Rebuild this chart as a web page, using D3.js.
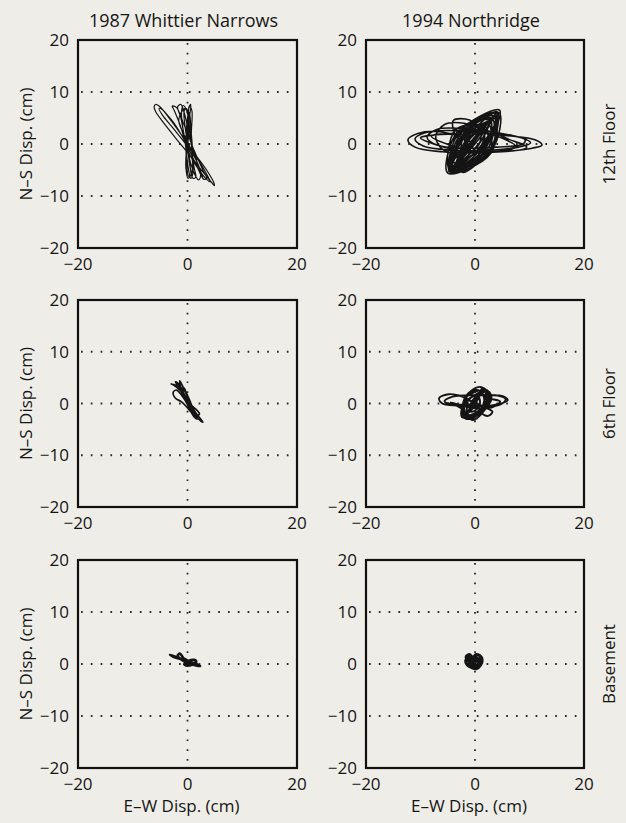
<!DOCTYPE html>
<html>
<head>
<meta charset="utf-8">
<script src="https://cdn.jsdelivr.net/npm/d3@7"></script>
<style>
  body { margin: 0; background: #efede7; }
  text { font-family: "Open Sans", "Noto Sans", sans-serif; fill: #151515; }
</style>
</head>
<body>
<svg id="chart"></svg>
<script>
// column titles and row labels
const events = ["1987 Whittier Narrows", "1994 Northridge"];
const floors = ["12th Floor", "6th Floor", "Basement"];
const xTicks = [-20, 0, 20];
const yTicks = [-20, -10, 0, 10, 20];
const yGrid = [-10, 0, 10];
const xGrid = [0];

// orbits [E-W, N-S] in cm
const whittier12 = [[0,0],[0.3,2.5],[0.2,5.5],[-0.2,6.8],[-0.6,6.4],[-0.4,3],[0.2,-1],[0.5,-4.5],[0.6,-6],[0.2,-6.2],[-0.2,-3],[-0.3,1],[0,5],[0.4,7.2],[0.8,6.4],[0.7,2],[0.8,-2],[1.0,-5.5],[0.6,-6.6],[0.2,-5],[-0.4,0],[-1.2,5],[-1.8,7.2],[-1.2,7.6],[-0.6,6],[0.5,1],[1.6,-3],[2.4,-6],[2.0,-6.9],[1.2,-5.6],[0,-1.5],[-1.2,3.2],[-2.4,6.4],[-2.8,7.3],[-2.0,7],[-0.6,3.6],[1.2,-1.2],[2.8,-5.0],[3.5,-6.6],[3.0,-6.8],[1.6,-4],[-0.4,0.4],[-2.6,4.2],[-4.2,6.2],[-5.2,7.3],[-5.8,7.6],[-6.1,7.2],[-5.8,6.2],[-4.6,4.4],[-2.2,1.2],[0.6,-2.4],[3.0,-5.6],[4.4,-7.4],[4.9,-8],[4.8,-7.4],[3.6,-5.2],[1.4,-2],[-1.0,1.6],[-3.2,4.8],[-4.8,6.8],[-5.2,6.8],[-4.6,5.6],[-2.6,3],[0,-0.4],[2.4,-3.8],[3.8,-6.4],[4.2,-7.3],[3.6,-6.9],[1.6,-4.2],[0,-1],[-0.8,2.8],[-1.1,6],[-0.8,7.4],[-0.2,6.6],[0.4,3],[0.8,-1],[1.2,-4.5],[1.5,-6.4],[1.0,-6.6],[0.4,-4],[0,0],[0.2,4],[0.6,7.6],[0.3,7.2],[0,3],[-0.2,-1],[-0.3,-4.5],[0.1,-6.6],[0.8,-5.4],[0.9,-1],[0.6,3],[0.3,6],[-0.5,6.8],[-1.6,4.6],[0.2,0],[2.2,-4.6],[2.8,-6.6]];

const northridge12 = [[0,0],[-3,1.5],[-7,2.4],[-10.5,2],[-12.3,0.8],[-11,-0.6],[-6,-1.5],[0,-1.7],[6,-1.4],[10.5,-0.8],[12.3,-0.2],[11,0.8],[6,1.6],[0,2.2],[-5,2.6],[-9,2.2],[-11,1],[-9.5,-0.4],[-4,-1.2],[2,-1.2],[8,-0.6],[10.2,0.2],[8.5,1.2],[3,2],[-3,3],[-7,2.8],[-8.8,1.3],[-7,-0.2],[-2,-0.8],[4,-0.6],[8.8,0],[9.2,0.8],[7,1.6],[2,2.6],[-2,4],[-5.5,3.8],[-7.2,1.5],[-6,-1],[-2.5,-2],[0.5,-0.5],[1,2.5],[-1,4.6],[-4,4.5],[-3,1],
  [4.0,6.2],[2.6,-1.3],[-4.6,-5.4],[-2.9,2.3],[4.5,6.5],[1.8,-0.8],[-4.2,-5.0],[-2.3,1.8],[3.6,5.4],[2.9,-1.8],[-5.0,-5.6],[-3.2,2.4],[4.2,5.8],[1.2,-0.2],[-3.6,-4.6],[-1.6,1.4],
  [-8,1.5],[0,-1.5],[7.5,-0.5],[0,2.8],[-4,2.5],
  [3.2,4.8],[2.2,-1.2],[-4.4,-5.2],[-2.6,2.0],[4.4,6.0],[3.2,-0.9],[-3.8,-4.8],[-3.4,1.6],[2.8,4.6],[1.6,-1.6],[-3.2,-4.4],[-2.0,1.2],
  [-10,1.2],[-2,-1.4],[9.5,-0.6],[4,2.2],
  [3.8,5.6],[0.8,0.2],[-4.8,-5.3],[-1.2,1.0],[2.4,4.0],[2.5,-2.2],[-2.8,-3.6],[-2.6,2.6],[4.0,6.0],[1.4,-0.6],[-4.0,-5.0],[-2.0,2.0],[3.0,5.0],[3.0,-1.4],[-4.6,-5.0],[-3.5,2.8],[1.6,3.2],[1.0,-0.6],[-2.0,-3.0],[-1.0,1.0],
  [3.4,5.2],[0.6,0.8],[-4.2,-4.8],[-0.8,0.4],[4.2,6.2],[0.2,1.2],[-4.6,-5.2],[-0.4,0],[2.6,4.2],[1.0,0.4],[-3.6,-4.2],[-1.4,0.4],[3.8,5.0],[1.8,0.2],[-4.0,-4.4],[-2.2,0.8],
  [2.0,3.2],[2.0,-0.2],[-3.0,-3.0],[-2.6,0.8],[4.0,4.8],[3.0,1.0],[-3.8,-3.6],[-3.0,0.6],[1.2,3.8],[1.4,-1.0],[-2.6,-4.8],[-2.2,-0.2],[3.6,6.0],[2.0,-1.8],[-2.4,-5.4],[-1.6,2.8],[0.5,1.5]];

const whittier6 = [[0,0],[-0.8,1.6],[-1.6,3.2],[-2.2,4.2],[-1.8,4.0],[-0.8,2.2],[0.2,0.2],[0.8,-1.4],[1.4,-2.6],[1.0,-2.2],[0.2,-0.6],[-0.8,1.2],[-2.0,2.6],[-2.6,2.2],[-2.2,1.0],[-1.2,0.4],[-0.2,-0.6],[0.8,-1.8],[1.6,-2.4],[2.2,-2.0],[1.8,-1.4],[0.6,-0.2],[-0.4,1.4],[-1.2,3.0],[-1.4,4.4],[-1.0,3.6],[-0.2,1.8],[0.6,0],[1.2,-1.6],[2.0,-3.0],[2.8,-3.6],[2.4,-3.0],[1.2,-1.4],[0,0.6],[-1.2,2.4],[-2.6,3.6],[-3.0,3.8],[-1.8,3.4],[-0.6,2.6],[0.4,0.6],[1.0,-1.0],[1.6,-2.0],[0.8,-1.6],[-0.2,0.2],[-1.0,2.2],[-0.6,3.0],[0,1.2],[0.6,-0.8],[1.2,-2.2],[1.8,-3.0],[1.2,-2.6],[0.4,-1.0],[-0.4,0.8],[-0.8,2.6],[-0.2,2.0],[0.4,0.2],[0.8,-2.0]];

const northridge6 = [[0,0],[-2,1.2],[-4.8,1.8],[-6.6,1.0],[-6.0,0],[-3,-0.4],[0.5,-0.6],[4,-0.2],[6.0,0.6],[5.2,1.4],[2,1.6],[-1.5,1.6],[-4.5,1.2],[-5.6,0.4],[-4,-0.2],[-0.8,-0.2],[2.5,-0.6],[5,0],[5.6,0.9],[3.8,1.6],[0.8,1.8],
  [1.5,3.0],[2.6,0.6],[-1.0,-3.0],[-2.2,-0.5],[2.2,2.6],[1.6,-0.6],[-2.0,-2.8],[-1.8,1.2],[1.0,3.2],[2.8,1.0],[-0.4,-3.2],[-2.4,-1.0],
  [-4.5,0.2],[-1,-0.8],[3,-0.8],[4.6,0.4],[2,1.2],
  [2.0,2.2],[1.0,-1.4],[-2.4,-2.6],[-1.4,1.6],[0.6,2.6],[2.2,-0.2],[-1.2,-2.6],[-2.0,0.6],
  [2,-0.8],[3.2,-1.6],[2.4,-2.4],[1.2,-1.8],[1.8,-0.6],[-0.5,-0.5],[1.6,2.8],[0.4,1.0],[-1.6,-2.0],[-0.6,-1.2],
  [1.8,2.8],[2.4,0.2],[-1.6,-3.0],[-2.0,-0.2],[1.2,2.0],[1.6,-0.4],[-1.2,-2.2],[-1.2,0.8],[0.6,1.4],[0.8,-0.6],[-0.8,-1.6],[-0.6,0.4],[2.4,2.4],[3.0,0.8],[0,-2.4],[-2.2,-1.8],[-1.8,1.0],[0.8,2.6]];

const whittierB = [[0,0],[-1,0.8],[-2.2,1.4],[-3.2,1.8],[-2.6,1.4],[-1.4,1.0],[-0.4,0.8],[0.4,0.4],[1.2,0.2],[2.0,-0.2],[2.3,-0.4],[1.6,-0.3],[0.6,0.1],[-0.4,0.4],[-1.2,0.9],[-1.8,1.6],[-1.4,2.0],[-0.8,1.2],[0,0.2],[0.8,-0.2],[1.6,0.4],[1.2,0.8],[0.2,0.6],[-0.6,-0.1],[0.2,-0.3],[1.0,0.1],[0.4,0.4],[-0.2,0.8],[-1.0,1.2]];

const northridgeB = [[0,0],[-1.2,0.6],[-1.6,1.4],[-1,1.8],[-0.4,1.2],[0.2,1.8],[0.9,1.6],[1.3,0.8],[1.0,-0.2],[0.2,-0.9],[-0.6,-0.7],[-1.4,-0.2],[-1.7,0.6],[-1.2,1.2],[-0.3,0.6],[0.6,1.0],[1.1,0.2],[0.6,-0.6],[-0.3,-0.4],[-1.0,0.2],[-0.8,0.9],[0,1.3],[0.8,0.6],[0.4,-0.2],[-0.4,0.2],[0,0.8],[0.4,0.3]];

const orbits = [
  [whittier12, northridge12],
  [whittier6, northridge6],
  [whittierB, northridgeB]
];

const width = 626, height = 823;
const colX = [[78, 297], [366, 584]];
const rowY = [[40, 248], [300, 507], [560, 768]];
const strokeW = [[1.2, 1.6], [1.7, 1.9], [2.6, 3.2]];

const svg = d3.select("#chart")
    .attr("width", width)
    .attr("height", height);

svg.append("rect")
    .attr("width", width)
    .attr("height", height)
    .attr("fill", "#efede7");

rowY.forEach(function(ry, r) {
  colX.forEach(function(cx, c) {
    const x = d3.scaleLinear().domain([-20, 20]).range(cx);
    const y = d3.scaleLinear().domain([-20, 20]).range([ry[1], ry[0]]);
    const g = svg.append("g");

    // dotted grid
    g.selectAll("line.h").data(yGrid).enter().append("line")
        .attr("x1", cx[0] + 3).attr("x2", cx[1])
        .attr("y1", function(d) { return y(d); })
        .attr("y2", function(d) { return y(d); })
        .attr("stroke", "#2a2a2a")
        .attr("stroke-width", 1.8)
        .attr("stroke-dasharray", "1.7,8.1");
    g.selectAll("line.v").data(xGrid).enter().append("line")
        .attr("y1", ry[0] + 3).attr("y2", ry[1])
        .attr("x1", function(d) { return x(d); })
        .attr("x2", function(d) { return x(d); })
        .attr("stroke", "#2a2a2a")
        .attr("stroke-width", 1.8)
        .attr("stroke-dasharray", "1.7,8.1");

    // orbit
    const line = d3.line()
        .x(function(d) { return x(d[0]); })
        .y(function(d) { return y(d[1]); })
        .curve(d3.curveCatmullRom.alpha(0.5));
    g.append("path")
        .datum(orbits[r][c])
        .attr("d", line)
        .attr("fill", "none")
        .attr("stroke", "#141414")
        .attr("stroke-width", strokeW[r][c])
        .attr("stroke-linejoin", "round");

    // frame
    g.append("rect")
        .attr("x", cx[0]).attr("y", ry[0])
        .attr("width", cx[1] - cx[0])
        .attr("height", ry[1] - ry[0])
        .attr("fill", "none")
        .attr("stroke", "#111")
        .attr("stroke-width", 2.2);

    // tick labels
    g.selectAll("text.yt").data(yTicks).enter().append("text")
        .attr("x", cx[0] - 9)
        .attr("y", function(d) { return y(d); })
        .attr("dy", "0.36em")
        .attr("text-anchor", "end")
        .style("font-size", "17px")
        .text(function(d) { return d < 0 ? "\u2212" + (-d) : d; });
    g.selectAll("text.xt").data(xTicks).enter().append("text")
        .attr("x", function(d) { return x(d); })
        .attr("y", ry[1] + 22)
        .attr("text-anchor", "middle")
        .style("font-size", "17px")
        .text(function(d) { return d < 0 ? "\u2212" + (-d) : d; });
  });
});

// column titles
svg.selectAll("text.title").data(events).enter().append("text")
    .attr("x", function(d, i) { return (colX[i][0] + colX[i][1]) / 2 - 4; })
    .attr("y", 27)
    .attr("text-anchor", "middle")
    .style("font-size", "18px")
    .text(function(d) { return d; });

// y axis labels
rowY.forEach(function(ry) {
  svg.append("text")
      .attr("transform", "translate(32," + (ry[0] + ry[1]) / 2 + ")rotate(-90)")
      .attr("text-anchor", "middle")
      .style("font-size", "17px")
      .text("N\u2013S Disp. (cm)");
});

// floor labels on the right
svg.selectAll("text.floor").data(floors).enter().append("text")
    .attr("transform", function(d, i) {
      return "translate(615," + (rowY[i][0] + rowY[i][1]) / 2 + ")rotate(-90)";
    })
    .attr("text-anchor", "middle")
    .style("font-size", "17px")
    .text(function(d) { return d; });

// x axis labels
colX.forEach(function(cx) {
  svg.append("text")
      .attr("x", (cx[0] + cx[1]) / 2 - 6)
      .attr("y", 812)
      .attr("text-anchor", "middle")
      .style("font-size", "17px")
      .text("E\u2013W Disp. (cm)");
});
</script>
</body>
</html>
